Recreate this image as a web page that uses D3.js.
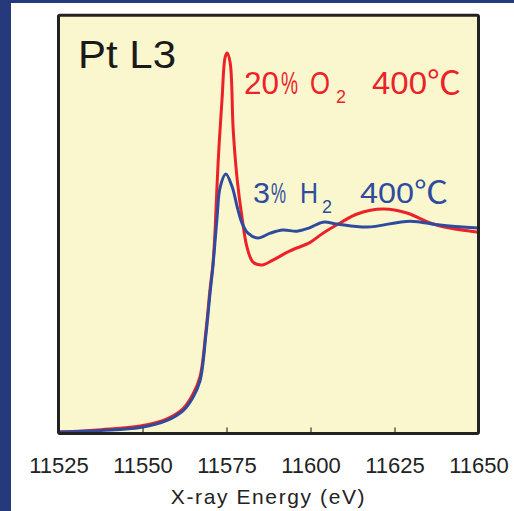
<!DOCTYPE html>
<html>
<head>
<meta charset="utf-8">
<script src="https://cdn.jsdelivr.net/npm/d3@7"></script>
<style>
  html, body { margin: 0; padding: 0; background: #fff; }
  svg { display: block; }
</style>
</head>
<body>
<svg id="chart" width="514" height="511"></svg>
<script>
// X-ray energy (eV) and normalized absorption for each condition
const o2Energy = [11525, 11537.7, 11549.3, 11557.3, 11562.1, 11565.0, 11567.1, 11568.9, 11570.1, 11571.0, 11571.6, 11572.5, 11573.7, 11574.6, 11575.2, 11576.1, 11577.0, 11578.2, 11579.6, 11581.1, 11582.9, 11585.6, 11588.8, 11593.9, 11599.9, 11603.7, 11608.8, 11613.9, 11621.6, 11628.7, 11635.6, 11641.5, 11650];
const o2Mu = [0, 0.012, 0.03, 0.065, 0.115, 0.185, 0.27, 0.5, 0.7, 0.83, 0.99, 1.32, 1.64, 1.838, 1.858, 1.809, 1.48, 1.235, 1.054, 0.907, 0.833, 0.819, 0.843, 0.888, 0.93, 0.975, 1.025, 1.069, 1.093, 1.074, 1.025, 1.0, 0.98];

const h2Energy = [11525, 11537.7, 11549.3, 11557.3, 11562.1, 11565.0, 11567.1, 11568.9, 11570.1, 11571.0, 11572.2, 11573.1, 11574.8, 11576.7, 11578.2, 11579.6, 11581.4, 11584.3, 11588.0, 11591.8, 11596, 11599.5, 11603.7, 11607.9, 11616.8, 11629.6, 11638.5, 11650];
const h2Mu = [0, 0.008, 0.022, 0.057, 0.105, 0.17, 0.25, 0.48, 0.68, 0.82, 1.054, 1.2, 1.265, 1.201, 1.103, 1.025, 0.975, 0.951, 0.975, 0.99, 0.985, 1.0, 1.029, 1.02, 1.005, 1.034, 1.015, 1.0];

const tickValues = [11525, 11550, 11575, 11600, 11625, 11650];
const xTitle = "X-ray Energy (eV)";
const edgeLabel = "Pt L3";

const red = "#ec2228";
const blue = "#2e4b9e";
const font = "Liberation Sans, Arial, sans-serif";

const svg = d3.select("#chart");

// page frame: navy bands on the left and top
svg.append("rect").attr("x", 0).attr("y", 0).attr("width", 514).attr("height", 3).attr("fill", "#25397c");
svg.append("rect").attr("x", 0).attr("y", 0).attr("width", 11).attr("height", 511).attr("fill", "#25397c");

const box = { left: 58.5, top: 15.3, right: 478.5, bottom: 433.5 };

const x = d3.scaleLinear().domain([11525, 11650]).range([box.left, box.right]);
const y = d3.scaleLinear().domain([-0.007, 2.043]).range([box.bottom, box.top]);

svg.append("rect")
  .attr("x", box.left).attr("y", box.top)
  .attr("width", box.right - box.left).attr("height", box.bottom - box.top)
  .attr("fill", "#faf7cf");

svg.append("defs").append("clipPath").attr("id", "clip")
  .append("rect")
  .attr("x", box.left).attr("y", box.top)
  .attr("width", box.right - box.left).attr("height", box.bottom - box.top);

const line = d3.line()
  .x((d) => x(d[0]))
  .y((d) => y(d[1]))
  .curve(d3.curveCatmullRom.alpha(0.5));

const plot = svg.append("g").attr("clip-path", "url(#clip)");
plot.append("path")
  .datum(d3.zip(o2Energy, o2Mu))
  .attr("fill", "none").attr("stroke", red).attr("stroke-width", 3)
  .attr("stroke-linejoin", "round")
  .attr("d", line);
plot.append("path")
  .datum(d3.zip(h2Energy, h2Mu))
  .attr("fill", "none").attr("stroke", blue).attr("stroke-width", 3)
  .attr("stroke-linejoin", "round")
  .attr("d", line);

// axis: inward ticks, labels below
const axis = svg.append("g")
  .attr("transform", `translate(0,${box.bottom})`)
  .call(d3.axisBottom(x).tickValues(tickValues).tickSizeInner(-6).tickSizeOuter(0).tickFormat(d3.format("d")));
axis.select(".domain").remove();
axis.selectAll(".tick line").attr("stroke", "#333").attr("stroke-width", 1.2)
  .filter((d) => d === 11525 || d === 11650).remove();
axis.selectAll(".tick text")
  .attr("y", 39.5).attr("dy", 0)
  .attr("fill", "#222")
  .attr("font-family", font)
  .attr("font-size", 22);

svg.append("rect")
  .attr("x", box.left).attr("y", box.top)
  .attr("width", box.right - box.left).attr("height", box.bottom - box.top)
  .attr("fill", "none").attr("stroke", "#222").attr("stroke-width", 3).attr("rx", 1.5);

svg.append("text")
  .attr("x", (box.left + box.right) / 2).attr("y", 504)
  .attr("text-anchor", "middle")
  .attr("font-family", font)
  .attr("font-size", 21).attr("letter-spacing", 1.6)
  .attr("fill", "#222")
  .text(xTitle);

// series labels, built piece by piece; each piece squeezed to the width it has in the figure
function label(parts, color) {
  parts.forEach((p) => {
    const g = svg.append("g").attr("transform", `translate(${p.x},${p.y})`);
    const t = g.append("text")
      .attr("fill", color)
      .attr("font-family", p.cjk ? "Noto Sans CJK JP, sans-serif" : font)
      .attr("font-size", p.size)
      .text(p.t);
    const len = t.node().getComputedTextLength();
    t.attr("transform", `scale(${p.w / len},1)`);
  });
}

label([{ t: edgeLabel, x: 78, y: 68, size: 39, w: 98 }], "#1a1a1a");

label([
  { t: "20", x: 244, y: 94, size: 31, w: 35 },
  { t: "%", x: 281, y: 94, size: 31, w: 17 },
  { t: "O", x: 310, y: 94, size: 31, w: 20 },
  { t: "2", x: 336, y: 103, size: 18, w: 10 },
  { t: "400", x: 372, y: 94, size: 31, w: 55 },
  { t: "℃", x: 427, y: 94, size: 32, w: 34, cjk: true },
], red);

label([
  { t: "3", x: 253, y: 203, size: 30, w: 17 },
  { t: "%", x: 271, y: 203, size: 30, w: 15 },
  { t: "H", x: 300, y: 203, size: 30, w: 18 },
  { t: "2", x: 322, y: 213, size: 18, w: 10 },
  { t: "400", x: 360, y: 203, size: 30, w: 54 },
  { t: "℃", x: 414, y: 203, size: 31, w: 34, cjk: true },
], blue);
</script>
</body>
</html>
